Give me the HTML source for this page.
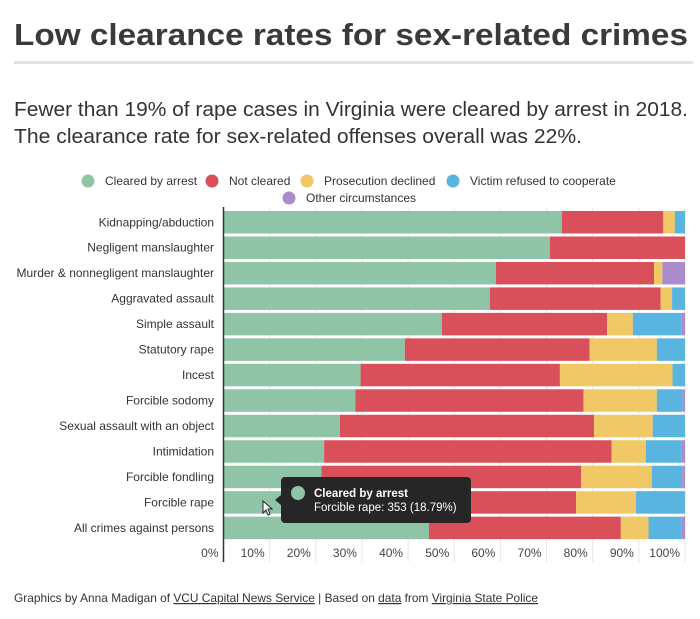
<!DOCTYPE html>
<html><head><meta charset="utf-8"><style>
html,body{margin:0;padding:0;background:#fff;width:700px;height:619px;overflow:hidden}
svg{display:block;font-family:"Liberation Sans",sans-serif}
</style></head><body>
<svg id="chart" width="700" height="619" viewBox="0 0 700 619">
<text x="14" y="45" font-size="31" font-weight="bold" fill="#3a3a3a" textLength="674" lengthAdjust="spacingAndGlyphs">Low clearance rates for sex-related crimes</text>
<rect x="14" y="61" width="679" height="3" fill="#e2e2e2"/>
<text x="14" y="116" font-size="20" fill="#333" textLength="674" lengthAdjust="spacingAndGlyphs">Fewer than 19% of rape cases in Virginia were cleared by arrest in 2018.</text>
<text x="14" y="143" font-size="20" fill="#333" textLength="568" lengthAdjust="spacingAndGlyphs">The clearance rate for sex-related offenses overall was 22%.</text>
<g id="legend"></g>
<g id="grid"></g>
<g id="bars"></g>
<g id="labels"></g>
<line x1="223.5" y1="207" x2="223.5" y2="562" stroke="#333" stroke-width="1.5"/>
<g>
<path d="M285 477 H467 a4 4 0 0 1 4 4 V519 a4 4 0 0 1 -4 4 H285 a4 4 0 0 1 -4 -4 V505 L275 500 L281 495 V481 a4 4 0 0 1 4 -4 Z" fill="#262626"/>
<circle cx="298" cy="493" r="7" fill="#8fc4a6"/>
<text x="314" y="497" font-size="11.5" font-weight="bold" fill="#fff">Cleared by arrest</text>
<text x="314" y="511" font-size="11.5" fill="#fff">Forcible rape: 353 (18.79%)</text>
</g>
<path d="M263 501 L263 513 L266 510 L268 515 L270 514 L268 509 L272 509 Z" fill="#fff" stroke="#222" stroke-width="1"/>
<text x="14" y="602" font-size="12" fill="#333" textLength="524" lengthAdjust="spacingAndGlyphs">Graphics by Anna Madigan of <tspan text-decoration="underline">VCU Capital News Service</tspan> | Based on <tspan text-decoration="underline">data</tspan> from <tspan text-decoration="underline">Virginia State Police</tspan></text>
</svg>
<script>
const categories=["Kidnapping/abduction","Negligent manslaughter","Murder & nonnegligent manslaughter","Aggravated assault","Simple assault","Statutory rape","Incest","Forcible sodomy","Sexual assault with an object","Intimidation","Forcible fondling","Forcible rape","All crimes against persons"];
const seriesNames=["Cleared by arrest","Not cleared","Prosecution declined","Victim refused to cooperate","Other circumstances"];
const clearedByArrest=[73.3,70.7,59.0,57.7,47.3,39.3,29.7,28.6,25.2,21.8,21.2,18.79,44.5];
const notCleared=[22.0,29.3,34.3,37.0,35.8,40.0,43.2,49.4,55.1,62.3,56.3,57.6,41.6];
const prosecutionDeclined=[2.5,0,1.8,2.5,5.6,14.6,24.4,15.9,12.7,7.4,15.3,13.0,6.0];
const victimRefused=[2.2,0,0,2.8,10.6,6.1,2.7,5.6,7.0,7.8,6.6,10.6,7.2];
const otherCircumstances=[0,0,4.9,0,0.7,0,0,0.5,0,0.7,0.6,0,0.7];
const ticks=[0,10,20,30,40,50,60,70,80,90,100];
const tickLabels=["0%","10%","20%","30%","40%","50%","60%","70%","80%","90%","100%"];
const colors=["#8fc4a6","#d9505a","#f0c865","#5ab4e0","#aa8ccc"];
const NS="http://www.w3.org/2000/svg";
const X0=223.5,X1=685,Y0=211,STEP=25.47,BH=22.5;
function xs(v){return X0+(X1-X0)*v/100;}
function ys(i){return Y0+i*STEP;}
function mk(t,a,p){const e=document.createElementNS(NS,t);for(const k in a)e.setAttribute(k,a[k]);p.appendChild(e);return e;}
const grid=document.getElementById('grid'),bars=document.getElementById('bars'),labels=document.getElementById('labels'),legend=document.getElementById('legend');
ticks.forEach((t,i)=>{
 if(t>0){const l=mk('line',{x1:xs(t),x2:xs(t),y1:207,y2:562,stroke:'#e6e6e6','stroke-width':1},grid);
 
 }
 const tx=mk('text',{x:xs(t)-5,y:557,'font-size':12,fill:'#444','text-anchor':'end'},labels);
 tx.textContent=tickLabels[i];
 
 
});
const series=[clearedByArrest,notCleared,prosecutionDeclined,victimRefused,otherCircumstances];
categories.forEach((c,i)=>{
 const tx=mk('text',{x:214,y:ys(i)+BH/2+4,'font-size':12,fill:'#333','text-anchor':'end'},labels);
 tx.textContent=c;
 
 
 let acc=0;
 series.forEach((s,j)=>{
  const v=s[i];if(v<=0)return;
  const r=mk('rect',{x:xs(acc),y:ys(i),width:xs(acc+v)-xs(acc),height:BH,fill:colors[j]},bars);
  
  
  acc+=v;
 });
});
const lpos=[[88,181],[212,181],[307,181],[453,181],[289,198]];
seriesNames.forEach((n,j)=>{
 const c=mk('circle',{cx:lpos[j][0],cy:lpos[j][1],r:6.5,fill:colors[j]},legend);
 
 
 const t=mk('text',{x:lpos[j][0]+17,y:lpos[j][1]+4,'font-size':12,fill:'#333'},legend);
 t.textContent=n;
 
 
});
</script>
</body></html>
